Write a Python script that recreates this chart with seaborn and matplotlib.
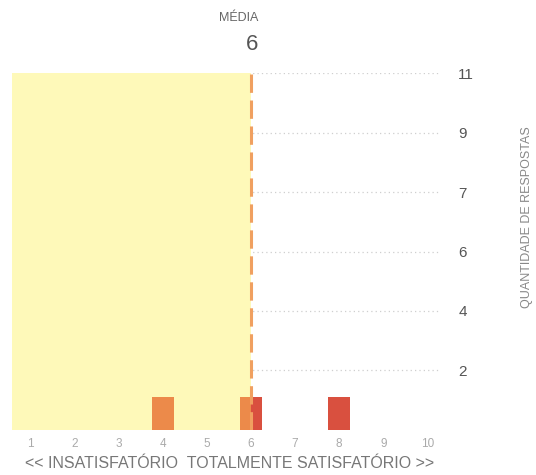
import numpy as np
import pandas as pd
import matplotlib
matplotlib.use("Agg")
import matplotlib.pyplot as plt
from matplotlib.patches import Rectangle
import seaborn as sns

# notas de 1 a 10 e quantidade de respostas
notas = [1, 2, 3, 4, 5, 6, 7, 8, 9, 10]
respostas = [0, 0, 0, 1, 0, 1, 0, 1, 0, 0]
media = 6
y_max = 11
y_ticks = [11 / 6 * k for k in range(1, 7)]
y_labels = ["2", "4", "6", "7", "9", "11"]

df = pd.DataFrame({"nota": notas, "respostas": respostas})

sns.set_theme(style="white")
plt.rcParams["font.family"] = ["Liberation Sans", "DejaVu Sans"]

fig = plt.figure(figsize=(5.36, 4.75), dpi=100)
ax = fig.add_axes([0.0224, 0.095, 0.799, 0.751])

x_min, x_max = 0.59, 10.29

# grade pontilhada
for t in y_ticks:
    ax.axhline(t, color="#cfcfcf", lw=0.9, ls=(0, (1, 2.5)), zorder=0)

# area amarela ate a media
ax.axvspan(x_min, media, color="#fef9b9", lw=0, zorder=1)

n0 = len(ax.patches)
sns.barplot(data=df, x="nota", y="respostas", native_scale=True, width=0.5,
            color="#d9503f", saturation=1, ax=ax, zorder=2, errorbar=None)
n1 = len(ax.patches)
sns.barplot(data=df, x="nota", y="respostas", native_scale=True, width=0.5,
            color="#ec8a4a", saturation=1, ax=ax, zorder=3, errorbar=None)
clip = Rectangle((x_min, 0), media - x_min, y_max, transform=ax.transData)
for p in ax.patches[n1:]:
    p.set_clip_path(clip)
for p in ax.patches[n0:]:
    p.set_linewidth(0)

# linha da media
ax.axvline(media, color="#f0a060", lw=2.2, ls=(0, (6, 2.5)), zorder=4)

ax.set_xlim(x_min, x_max)
ax.set_ylim(0, y_max)
ax.set_xticks(notas)
ax.set_xticklabels([str(n) for n in notas], fontsize=8.5, color="#aaaaaa")
ax.set_yticks(y_ticks)
ax.set_yticklabels(y_labels, fontsize=11, color="#555555")
ax.yaxis.tick_right()
ax.tick_params(axis="y", length=0, pad=13)
ax.tick_params(axis="x", length=0, pad=6)
ax.set_xlabel("")
ax.set_ylabel("")
for s in ax.spines.values():
    s.set_visible(False)

fig.text(258 / 536, 1 - 18 / 475, "MÉDIA", ha="right", va="center",
         fontsize=9, color="#666666")
fig.text(258 / 536, 1 - 44 / 475, str(media), ha="right", va="center",
         fontsize=16, color="#555555")
fig.text(527 / 536, 1 - 217 / 475, "QUANTIDADE DE RESPOSTAS", ha="center",
         va="center", rotation=90, fontsize=9, color="#888888")
fig.text(230 / 536, 1 - 463 / 475,
         "<< INSATISFATÓRIO  TOTALMENTE SATISFATÓRIO >>",
         ha="center", va="center", fontsize=11.5, color="#777777")

fig.savefig("out.png", dpi=100)
